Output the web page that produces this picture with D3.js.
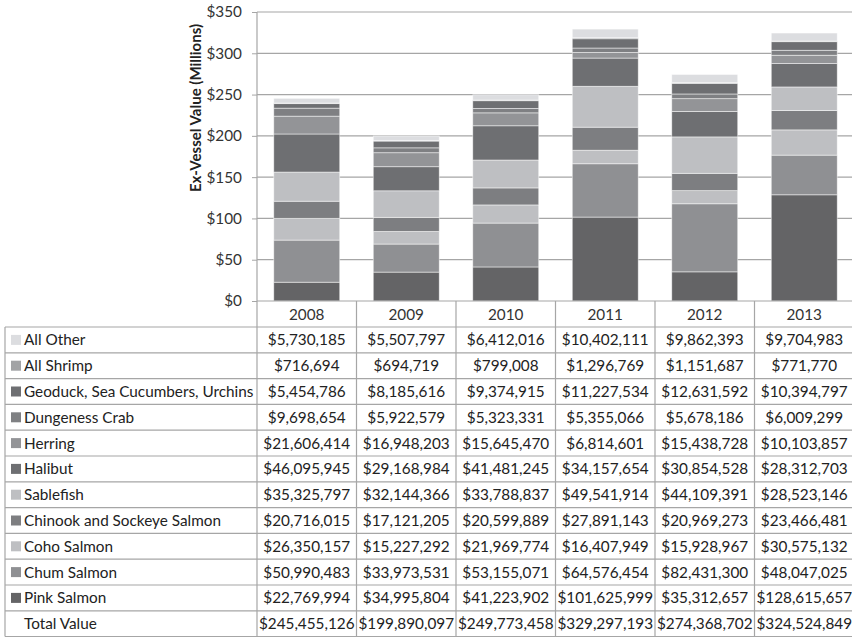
<!DOCTYPE html>
<html><head><meta charset="utf-8">
<script src="https://cdn.jsdelivr.net/npm/d3@7"></script>
<style>body{margin:0;background:#fff;} svg{display:block;}</style>
</head><body>
<svg id="c" width="852" height="637"></svg>
<script>
const years = ["2008","2009","2010","2011","2012","2013"];
const seriesNames = ["Pink Salmon","Chum Salmon","Coho Salmon","Chinook and Sockeye Salmon","Sablefish","Halibut","Herring","Dungeness Crab","Geoduck, Sea Cucumbers, Urchins","All Shrimp","All Other"];
const pinkSalmon = [22769994,34995804,41223902,101625999,35312657,128615657];
const chumSalmon = [50990483,33973531,53155071,64576454,82431300,48047025];
const cohoSalmon = [26350157,15227292,21969774,16407949,15928967,30575132];
const chinookSockeye = [20716015,17121205,20599889,27891143,20969273,23466481];
const sablefish = [35325797,32144366,33788837,49541914,44109391,28523146];
const halibut = [46095945,29168984,41481245,34157654,30854528,28312703];
const herring = [21606414,16948203,15645470,6814601,15438728,10103857];
const dungeness = [9698654,5922579,5323331,5355066,5678186,6009299];
const geoduck = [5454786,8185616,9374915,11227534,12631592,10394797];
const allShrimp = [716694,694719,799008,1296769,1151687,771770];
const allOther = [5730185,5507797,6412016,10402111,9862393,9704983];
const totals = [245455126,199890097,249773458,329297193,274368702,324524849];
const yTicks = [0,50,100,150,200,250,300,350];
const colors = ["#646466","#8f9093","#bebfc2","#7d7e81","#bebfc2","#6e6f72","#939497","#7f8083","#6e6f72","#a2a3a5","#dcdde0"];

const seriesValues = [pinkSalmon,chumSalmon,cohoSalmon,chinookSockeye,sablefish,halibut,herring,dungeness,geoduck,allShrimp,allOther];
const rows = years.map((yr,i)=>{const r={year:yr}; seriesNames.forEach((n,k)=>r[n]=seriesValues[k][i]/1e6); return r;});
const stacked = d3.stack().keys(seriesNames)(rows);

const svg = d3.select("#c");
const font = "Lato, 'Open Sans', sans-serif";
const FS = 15.3;
const L = 257, R = 854, T = 12, BASE = 301, TT = 327, RH = 25.8, TL = 5;
const col = d3.scaleBand().domain(years).range([L,R]).padding(0);
const xb = d3.scaleBand().domain(years).range([L,R]).paddingInner(0.337).paddingOuter(0.1685);
const y = d3.scaleLinear().domain([0,350]).range([BASE,T]);
const grid = "#a6a6a6";

// gridlines
svg.append("g").selectAll("line").data(yTicks.slice(1)).join("line")
  .attr("x1",L).attr("x2",852).attr("y1",d=>y(d)).attr("y2",d=>y(d))
  .attr("stroke",grid).attr("stroke-width",1.2);

// y axis
const yAxis = svg.append("g").attr("transform",`translate(${L},0)`)
  .call(d3.axisLeft(y).tickValues(yTicks).tickSize(5).tickPadding(10).tickFormat(d=>"$"+d));
yAxis.select(".domain").remove();
yAxis.selectAll("line").attr("stroke",grid);
yAxis.selectAll("text").attr("font-family",font).attr("font-size",FS).attr("fill","#333");
svg.append("line").attr("x1",L).attr("x2",L).attr("y1",T).attr("y2",TT).attr("stroke",grid).attr("stroke-width",1.2);

// bars
svg.append("g").selectAll("g").data(stacked).join("g")
  .attr("fill",(d,i)=>colors[i])
  .selectAll("rect").data(d=>d).join("rect")
  .attr("x",d=>xb(d.data.year)).attr("width",xb.bandwidth())
  .attr("y",d=>y(d[1])).attr("height",d=>Math.max(0,y(d[0])-y(d[1])))
  .attr("stroke","#ffffff").attr("stroke-opacity",0.6).attr("stroke-width",0.8);

// x axis line
svg.append("line").attr("x1",L).attr("x2",852).attr("y1",BASE).attr("y2",BASE).attr("stroke",grid).attr("stroke-width",1.2);

// column separators in header
svg.append("g").selectAll("line").data(years.slice(1)).join("line")
  .attr("x1",d=>col(d)).attr("x2",d=>col(d)).attr("y1",BASE).attr("y2",TT)
  .attr("stroke",grid).attr("stroke-width",1.2);
svg.append("g").selectAll("text").data(years).join("text")
  .attr("x",d=>col(d)+col.bandwidth()/2).attr("y",BASE+18.5)
  .attr("text-anchor","middle").attr("font-family",font).attr("font-size",FS).attr("fill","#333").text(d=>d);

// y label
svg.append("text").attr("transform",`translate(201,108) rotate(-90)`)
  .attr("text-anchor","middle").attr("font-family",font).attr("font-size",15).attr("font-weight","bold").attr("fill","#222")
  .text("Ex-Vessel Value (Millions)");

// table
const tableRows = seriesNames.map((n,k)=>({name:n,color:colors[k],vals:seriesValues[k]})).reverse();
tableRows.push({name:"Total Value",color:null,vals:totals});
const fmt = d3.format(",");
const rowY = i=>TT + i*RH;
const tg = svg.append("g");
tg.selectAll("line.h").data(d3.range(tableRows.length+1)).join("line")
  .attr("x1",TL).attr("x2",852).attr("y1",i=>rowY(i)).attr("y2",i=>rowY(i))
  .attr("stroke",grid).attr("stroke-width",1.2);
const vx = [TL, ...years.map(d=>col(d))];
tg.selectAll("line.v").data(vx).join("line")
  .attr("x1",d=>d).attr("x2",d=>d).attr("y1",TT).attr("y2",rowY(tableRows.length))
  .attr("stroke",grid).attr("stroke-width",1.2);

const rg = tg.selectAll("g.row").data(tableRows).join("g").attr("transform",(d,i)=>`translate(0,${rowY(i)})`);
rg.filter(d=>d.color).append("rect").attr("x",11).attr("y",RH/2-5).attr("width",10).attr("height",10).attr("fill",d=>d.color);
rg.append("text").attr("x",24).attr("y",RH/2+5.5).attr("font-family",font).attr("font-size",FS).attr("fill","#222").text(d=>d.name);
rg.selectAll("text.v").data(d=>d.vals.map((v,i)=>({v,year:years[i]}))).join("text")
  .attr("x",d=>col(d.year)+col.bandwidth()/2).attr("y",RH/2+5.5)
  .attr("text-anchor","middle").attr("font-family",font).attr("font-size",FS).attr("fill","#222")
  .text(d=>"$"+fmt(d.v));
</script>
</body></html>
